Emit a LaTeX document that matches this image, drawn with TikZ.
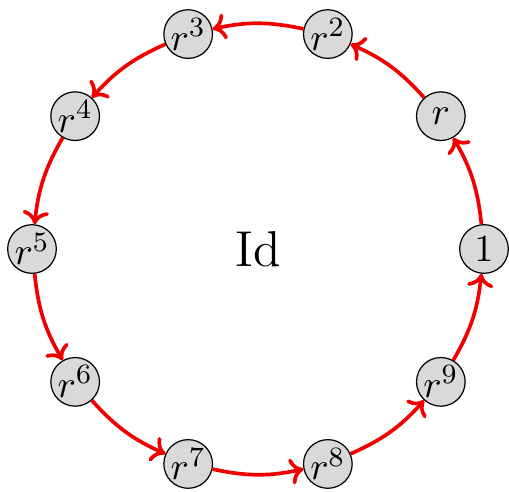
\documentclass[tikz,border=0pt]{standalone}
\usetikzlibrary{arrows.meta}
\begin{document}
\begin{tikzpicture}[x=0.2857pt,y=0.2857pt,
  elem/.style={circle,draw=black,line width=0.35pt,fill=black!15,minimum size=13.9pt,inner sep=0pt,font=\fontsize{11}{13}\selectfont},
  cyc/.style={draw=red!95!black,line width=1.05pt,-{To[length=3.8pt,width=7.5pt]},bend right=12}]
\useasboundingbox (0,-491) rectangle (509,0);
\coordinate (c) at (258,-249);
\node[elem] (n0) at ([shift={(0:226)}]c) {$1$};
\node[elem] (n1) at ([shift={(36:226)}]c) {$r$};
\node[elem] (n2) at ([shift={(72:226)}]c) {$r^2$};
\node[elem] (n3) at ([shift={(108:226)}]c) {$r^3$};
\node[elem] (n4) at ([shift={(144:226)}]c) {$r^4$};
\node[elem] (n5) at ([shift={(180:226)}]c) {$r^5$};
\node[elem] (n6) at ([shift={(216:226)}]c) {$r^6$};
\node[elem] (n7) at ([shift={(252:226)}]c) {$r^7$};
\node[elem] (n8) at ([shift={(288:226)}]c) {$r^8$};
\node[elem] (n9) at ([shift={(324:226)}]c) {$r^9$};
\node[font=\Large] (id) at (c) {Id};
\draw[cyc] (n0) to (n1);
\draw[cyc] (n1) to (n2);
\draw[cyc] (n2) to (n3);
\draw[cyc] (n3) to (n4);
\draw[cyc] (n4) to (n5);
\draw[cyc] (n5) to (n6);
\draw[cyc] (n6) to (n7);
\draw[cyc] (n7) to (n8);
\draw[cyc] (n8) to (n9);
\draw[cyc] (n9) to (n0);
\end{tikzpicture}
\end{document}
